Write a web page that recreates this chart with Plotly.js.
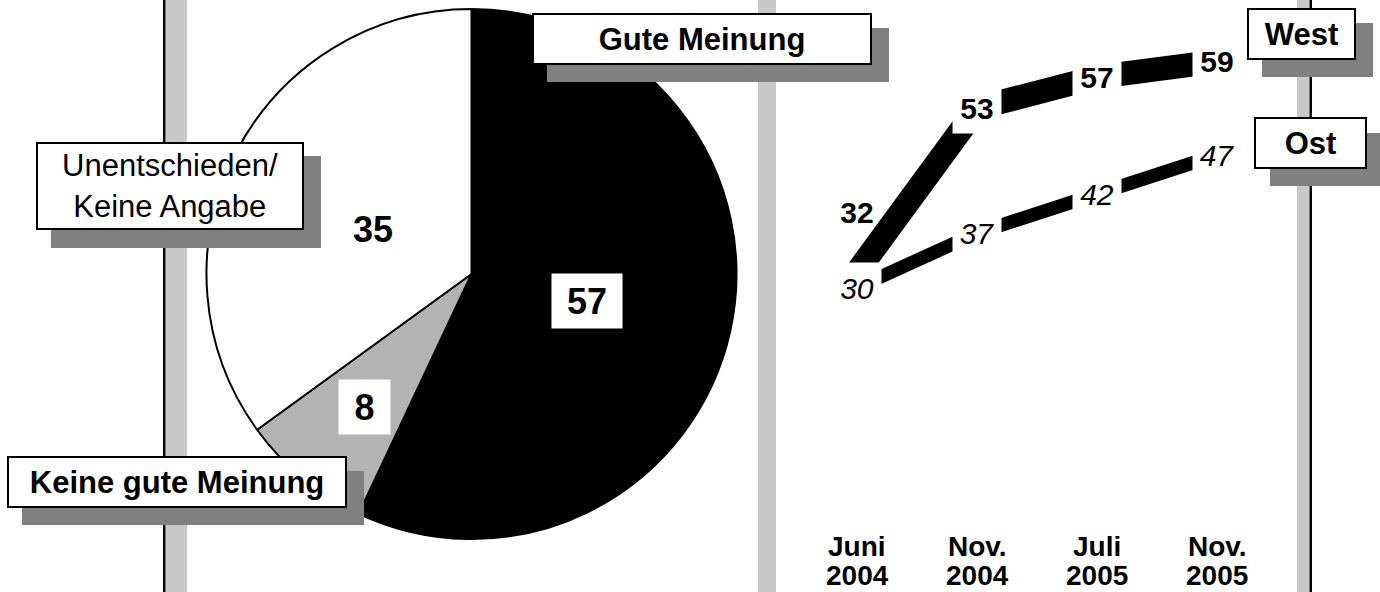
<!DOCTYPE html>
<html>
<head>
<meta charset="utf-8">
<script src="https://cdn.plot.ly/plotly-3.0.1.min.js"></script>
<style>
  html, body { margin: 0; padding: 0; background: #ffffff; }
  #chart { width: 1380px; height: 592px; }
</style>
</head>
<body>
<div id="chart"></div>
<script>
// ---------- data ----------
const pieLabels = ['Gute Meinung', 'Keine gute Meinung', 'Unentschieden/<br>Keine Angabe'];
const pieValues = [57, 8, 35];
const pieColors = ['#000000', '#b3b3b3', '#ffffff'];

const categories = ['Juni 2004', 'Nov. 2004', 'Juli 2005', 'Nov. 2005'];
const monthLabels = ['Juni', 'Nov.', 'Juli', 'Nov.'];
const yearLabels = ['2004', '2004', '2005', '2005'];
const westValues = [32, 53, 57, 59];
const ostValues = [30, 37, 42, 47];
const seriesNames = ['West', 'Ost'];

// ---------- helpers ----------
const W = 1380, H = 592;
const FONT = 'Liberation Sans, Arial, Helvetica, sans-serif';
const px = x => x / W;
const py = y => 1 - y / H;

const shapes = [];
const annotations = [];

// pillars (background)
function vrect(x0, x1, color) {
  shapes.push({type: 'rect', xref: 'paper', yref: 'paper', layer: 'below',
    x0: px(x0), x1: px(x1), y0: 0, y1: 1, fillcolor: color, line: {width: 0}});
}
vrect(166, 187, '#c8c8c8');
vrect(163, 165.5, '#000000');
vrect(758, 776, '#c8c8c8');
vrect(1297, 1309.5, '#c8c8c8');
vrect(1309.5, 1312, '#000000');

// boxed labels with drop shadow
function boxLabel(text, x0, y0, x1, y1, sx0, sy0, sx1, sy1, bold) {
  shapes.push({type: 'rect', xref: 'paper', yref: 'paper', layer: 'above',
    x0: px(sx0), x1: px(sx1), y0: py(sy1), y1: py(sy0), fillcolor: '#808080', line: {width: 0}});
  annotations.push({xref: 'paper', yref: 'paper', x: px((x0 + x1) / 2), y: py((y0 + y1) / 2),
    xanchor: 'center', yanchor: 'middle', showarrow: false, text: text,
    width: (x1 - x0) - 4, height: (y1 - y0) - 4, bgcolor: '#ffffff', bordercolor: '#000000',
    borderwidth: 2, borderpad: 0, align: 'center',
    font: {family: FONT, size: 31, color: '#000', weight: bold ? 'bold' : 'normal'}});
}
boxLabel(pieLabels[0], 532, 13, 872, 65, 547, 28, 889, 82, true);
boxLabel(pieLabels[1], 7, 456, 347, 508, 22, 471, 364, 525, true);
boxLabel(pieLabels[2], 36, 142, 304, 230, 51, 156, 321, 248, false);
boxLabel(seriesNames[0], 1247, 8, 1356, 60, 1262, 23, 1373, 77, true);
boxLabel(seriesNames[1], 1254, 117, 1367, 169, 1270, 133, 1380, 186, true);

// pie value labels
const pieValuePos = [[587, 301, 70, 54, true], [364.5, 407, 51, 54, true], [373, 229, 50, 40, false]];
pieValues.forEach((v, i) => {
  const p = pieValuePos[i];
  annotations.push({xref: 'paper', yref: 'paper', x: px(p[0]), y: py(p[1]),
    xanchor: 'center', yanchor: 'middle', showarrow: false, text: String(v),
    width: p[2], height: p[3], bgcolor: p[4] ? '#ffffff' : 'rgba(0,0,0,0)', borderpad: 0,
    font: {family: FONT, size: 36, color: '#000', weight: 'bold'}});
});

// line value labels (white boxes hide line ends around each point)
westValues.forEach((v, i) => {
  const first = (i === 0);
  annotations.push({xref: 'x', yref: 'y', x: categories[i], y: v,
    xanchor: 'center', yanchor: 'middle', showarrow: false, text: String(v),
    yshift: first ? 60 : 0,
    width: 48, height: 50, bgcolor: first ? 'rgba(0,0,0,0)' : '#ffffff', borderpad: 0,
    font: {family: FONT, size: 30, color: '#000', weight: 'bold'}});
});
ostValues.forEach((v, i) => {
  annotations.push({xref: 'x', yref: 'y', x: categories[i], y: v,
    xanchor: 'center', yanchor: 'middle', showarrow: false, text: String(v),
    width: 48, height: 50, bgcolor: '#ffffff', borderpad: 0,
    font: {family: FONT, size: 30, color: '#000', style: 'italic'}});
});

// category labels (two rows)
categories.forEach((c, i) => {
  annotations.push({xref: 'x', yref: 'paper', x: c, y: py(546), xanchor: 'center', yanchor: 'middle',
    showarrow: false, text: monthLabels[i], height: 28, borderpad: 0,
    font: {family: FONT, size: 28, color: '#000', weight: 'bold'}});
  annotations.push({xref: 'x', yref: 'paper', x: c, y: py(575), xanchor: 'center', yanchor: 'middle',
    showarrow: false, text: yearLabels[i], height: 28, borderpad: 0,
    font: {family: FONT, size: 28, color: '#000', weight: 'bold'}});
});

// ---------- traces ----------
const traces = [
  {type: 'pie', values: pieValues, labels: pieLabels, sort: false, direction: 'clockwise', rotation: 0,
   marker: {colors: pieColors, line: {color: '#000000', width: 2}},
   textinfo: 'none', hoverinfo: 'none', showlegend: false,
   domain: {x: [px(206.5), px(736.5)], y: [py(539), py(9)]}},
  {type: 'scatter', mode: 'lines', name: seriesNames[0], x: categories, y: westValues,
   line: {color: '#000000', width: 24}, hoverinfo: 'none', showlegend: false},
  {type: 'scatter', mode: 'lines', name: seriesNames[1], x: categories, y: ostValues,
   line: {color: '#000000', width: 13.5}, hoverinfo: 'none', showlegend: false}
];

const layout = {
  width: W, height: H, autosize: false,
  margin: {l: 0, r: 0, t: 0, b: 0, pad: 0},
  paper_bgcolor: '#ffffff', plot_bgcolor: 'rgba(0,0,0,0)',
  showlegend: false,
  font: {family: FONT, color: '#000'},
  xaxis: {type: 'category', categoryarray: categories, domain: [px(797), px(1277)], range: [-0.5, 3.5],
          showgrid: false, zeroline: false, showline: false, showticklabels: false, ticks: '', fixedrange: true},
  yaxis: {domain: [0, 1], range: [-9.03, 66.87], showgrid: false, zeroline: false, showline: false,
          showticklabels: false, ticks: '', fixedrange: true},
  shapes: shapes,
  annotations: annotations
};

Plotly.newPlot('chart', traces, layout, {staticPlot: true, displayModeBar: false});
</script>
</body>
</html>
